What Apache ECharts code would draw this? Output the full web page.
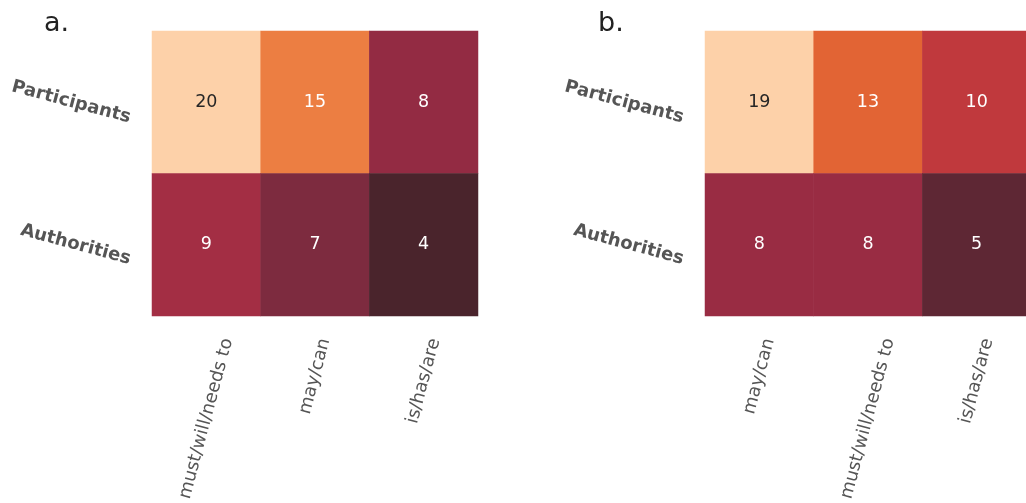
<!DOCTYPE html>
<html>
<head>
<meta charset="utf-8">
<script src="https://cdn.jsdelivr.net/npm/echarts@6/dist/echarts.min.js"></script>
<style>
  html, body { margin: 0; padding: 0; background: #ffffff; }
  #chart { width: 1026px; height: 503px; }
</style>
</head>
<body>
<div id="chart"></div>
<script>
// ---- data ----
const ROWS = ['Participants', 'Authorities'];
const COLS_A = ['must/will/needs to', 'may/can', 'is/has/are'];
const VALUES_A = [[20, 15, 8], [9, 7, 4]];
const COLS_B = ['may/can', 'must/will/needs to', 'is/has/are'];
const VALUES_B = [[19, 13, 10], [8, 8, 5]];
const PANEL_LABELS = ['a.', 'b.'];

// ---- colour maps (value -> colour, per panel) ----
const COLORS_A = [[20, '#FDD1A9'], [15, '#EC7E42'], [9, '#A32E44'], [8, '#932B43'], [7, '#7D2B3F'], [4, '#4A242C']];
const COLORS_B = [[19, '#FDD1A9'], [13, '#E26434'], [10, '#C0393D'], [8, '#992C43'], [5, '#5E2734']];

// ---- layout ----
const GRID_TOP = 31, GRID_H = 285, GRID_W = 326;
const GRID_LEFTS = [152, 705];
const XFS = 18, YFS = 18, CELLFS = 17.5;
const XH = XFS * 1.17, YH = YFS * 1.17;
const XM = 2;          // x label margin
const XTOP = 336;      // desired top of rotated x labels
const YGAP = 19;       // gap between grid left and right edge of rotated y labels
const FONT = 'DejaVu Sans';

const ctx = document.createElement('canvas').getContext('2d');
function textWidth(t, font) { ctx.font = font; return ctx.measureText(t).width; }

const c75 = Math.cos(75 * Math.PI / 180), s75 = Math.sin(75 * Math.PI / 180);
const c15 = Math.cos(15 * Math.PI / 180), s15 = Math.sin(15 * Math.PI / 180);

// rich styles that place each rotated x label like a centred, top-aligned bbox
function xRich(cols) {
  const bottom = GRID_TOP + GRID_H;
  const rich = {};
  cols.forEach((name, i) => {
    const L = textWidth(name, XFS + 'px "' + FONT + '"');
    const dx = L * c75 / 2;
    const dy = (XTOP + (XH / 2) * c75) - (bottom + XM);
    const a = s75 * dx + c75 * dy;
    const q = -c75 * dx + s75 * dy;
    rich['t' + i] = { fontFamily: FONT, fontSize: XFS, color: '#555555', lineHeight: 2 * a };
    rich['s' + i] = { width: Math.max(0, q), height: 1 };
  });
  return rich;
}
function yRich() {
  const rich = {};
  ROWS.forEach((name, i) => {
    const L = textWidth(name, 'bold ' + YFS + 'px "' + FONT + '"');
    const dx = -YGAP - (YH / 2) * s15;
    const dy = L * s15 / 2;
    const a = -s15 * dx + c15 * dy;
    const q = -c15 * dx - s15 * dy;
    rich['t' + i] = { fontFamily: FONT, fontSize: YFS, fontWeight: 'bold', color: '#555555', lineHeight: 2 * a };
    rich['s' + i] = { width: Math.max(0, q), height: 1 };
  });
  return rich;
}
function cells(values) {
  const out = [];
  values.forEach((row, r) => row.forEach((v, c) => out.push([c, r, v])));
  return out;
}
const tagged = (value, index) => '{t' + index + '|' + value + '}{s' + index + '|}';

const panels = [
  { cols: COLS_A, values: VALUES_A, colors: COLORS_A },
  { cols: COLS_B, values: VALUES_B, colors: COLORS_B }
];

const option = {
  backgroundColor: '#ffffff',
  animation: false,
  grid: panels.map((p, i) => ({
    left: GRID_LEFTS[i], top: GRID_TOP, width: GRID_W, height: GRID_H,
    containLabel: false, outerBoundsMode: 'none'
  })),
  xAxis: panels.map((p, i) => ({
    type: 'category', gridIndex: i, data: p.cols, position: 'bottom',
    axisLine: { show: false }, axisTick: { show: false }, splitLine: { show: false },
    axisLabel: {
      interval: 0, rotate: 75, margin: XM, align: 'right', verticalAlign: 'top',
      fontFamily: FONT, fontSize: XFS, color: '#555555', hideOverlap: false,
      formatter: tagged, rich: xRich(p.cols)
    }
  })),
  yAxis: panels.map((p, i) => ({
    type: 'category', gridIndex: i, data: ROWS, inverse: true,
    axisLine: { show: false }, axisTick: { show: false }, splitLine: { show: false },
    axisLabel: {
      interval: 0, rotate: -15, margin: 0, align: 'right', verticalAlign: 'top',
      fontFamily: FONT, fontWeight: 'bold', fontSize: YFS, color: '#555555', hideOverlap: false,
      formatter: tagged, rich: yRich()
    }
  })),
  visualMap: panels.map((p, i) => ({
    type: 'piecewise', show: false, seriesIndex: i, dimension: 2,
    pieces: p.colors.map(([v, c]) => ({ value: v, color: c }))
  })),
  series: panels.map((p, i) => {
    const maxV = Math.max(...p.values.flat());
    return {
      type: 'heatmap', xAxisIndex: i, yAxisIndex: i, data: cells(p.values),
      itemStyle: { borderWidth: 0 },
      label: {
        show: true,
        formatter: d => (d.value[2] === maxV ? '{d|' : '{l|') + d.value[2] + '}',
        rich: {
          d: { color: '#262626', fontFamily: FONT, fontSize: CELLFS },
          l: { color: '#ffffff', fontFamily: FONT, fontSize: CELLFS }
        }
      },
      emphasis: { disabled: true }
    };
  }),
  graphic: PANEL_LABELS.map((t, i) => ({
    type: 'text', left: [44, 598][i], top: 10,
    style: { text: t, font: '27px "DejaVu Sans"', fill: '#222222' }
  }))
};

const chart = echarts.init(document.getElementById('chart'), null, { renderer: 'canvas' });
chart.setOption(option);
</script>
</body>
</html>
